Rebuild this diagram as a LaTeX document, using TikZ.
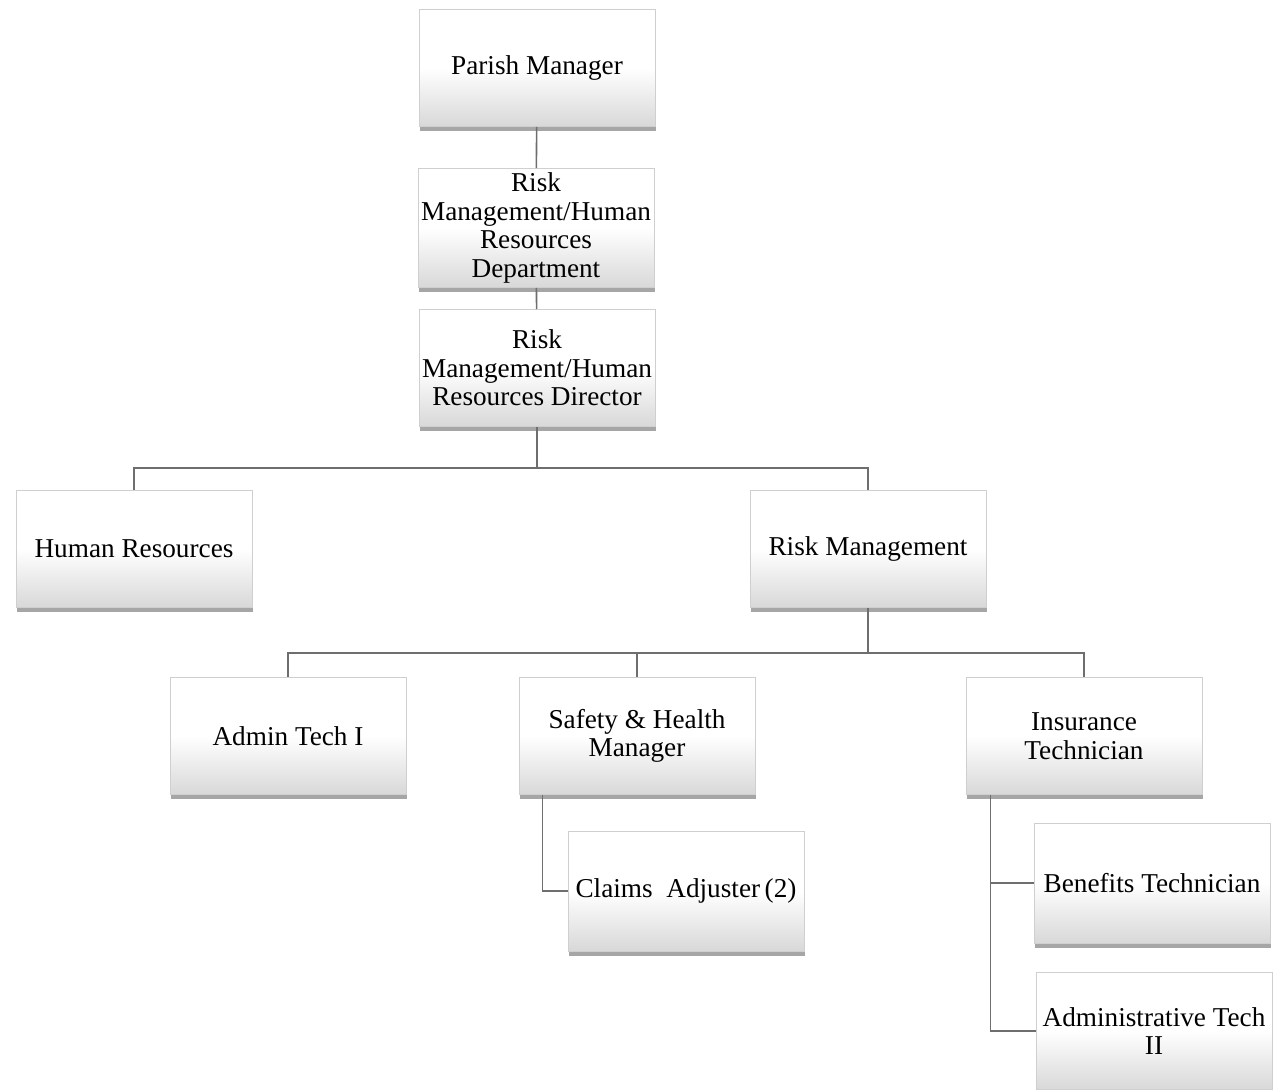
\documentclass[tikz,border=0pt]{standalone}
\usepackage{fontspec}
\setmainfont{Liberation Serif}
\usetikzlibrary{positioning,shadows}
\definecolor{boxEdge}{HTML}{CFCFCF}
\definecolor{boxShade}{HTML}{D8D8D8}
\definecolor{connGray}{HTML}{6E6E6E}

\begin{document}
\begin{tikzpicture}[
  x=0.02cm, y=-0.02cm,
  post/.style={rectangle,draw=boxEdge,line width=0.4pt,
    top color=white,bottom color=boxShade,middle color=white,
    minimum width=4.72cm,minimum height=2.34cm,inner xsep=0.5pt,inner ysep=2pt,
    align=center,font=\fontsize{15.5}{16.2}\selectfont,
    drop shadow={shadow xshift=0.6pt,shadow yshift=-2.6pt,fill=black,opacity=0.35}},
  conn/.style={draw=connGray,line width=0.9pt}
]
  \useasboundingbox (0,0) rectangle (1288,1089);

  % --- top of the chart ---
  \node[post] (PM)   at (537,68)  {Parish Manager};
  \node[post,minimum height=2.38cm] (RMHRD) at (536,228) {Risk\\Management/Human\\Resources\\Department};
  \node[post] (RMHRDir) at (537,368) {Risk\\Management/Human\\Resources Director};
  \draw[conn] (PM) -- (RMHRD);
  \draw[conn] (RMHRD) -- (RMHRDir);

  % --- two divisions ---
  \node[post] (HR) at (134,549) {Human Resources};
  \node[post] (RM) at (868,549) {Risk Management};
  \draw[conn] (RMHRDir.south) -- ++(0,41) -| (HR.north);
  \draw[conn] (RMHRDir.south) -- ++(0,41) -| (RM.north);

  % --- Risk Management staff ---
  \node[post] (AT1) at (288,736)  {Admin Tech I};
  \node[post] (SHM) at (637,736)  {Safety \& Health\\Manager};
  \node[post] (INS) at (1084,736) {Insurance\\Technician};
  \draw[conn] (RM.south) -- ++(0,45) -| (AT1.north);
  \draw[conn] (RM.south) -- ++(0,45) -| (SHM.north);
  \draw[conn] (RM.south) -- ++(0,45) -| (INS.north);

  % --- reports under Safety & Health and Insurance ---
  \node[post,minimum height=2.4cm] (CA) at (686,891) {Claims\ \ Adjuster\,(2)};
  \node[post,minimum height=2.4cm] (BT) at (1152,883) {Benefits Technician};
  \node[post] (AT2) at (1154,1031) {Administrative Tech\\II};
  \draw[conn] ([xshift=0.48cm]SHM.south west) |- (CA.west);
  \draw[conn] ([xshift=0.5cm]INS.south west) |- (BT.west);
  \draw[conn] ([xshift=0.5cm]INS.south west) |- (AT2.west);
\end{tikzpicture}
\end{document}
